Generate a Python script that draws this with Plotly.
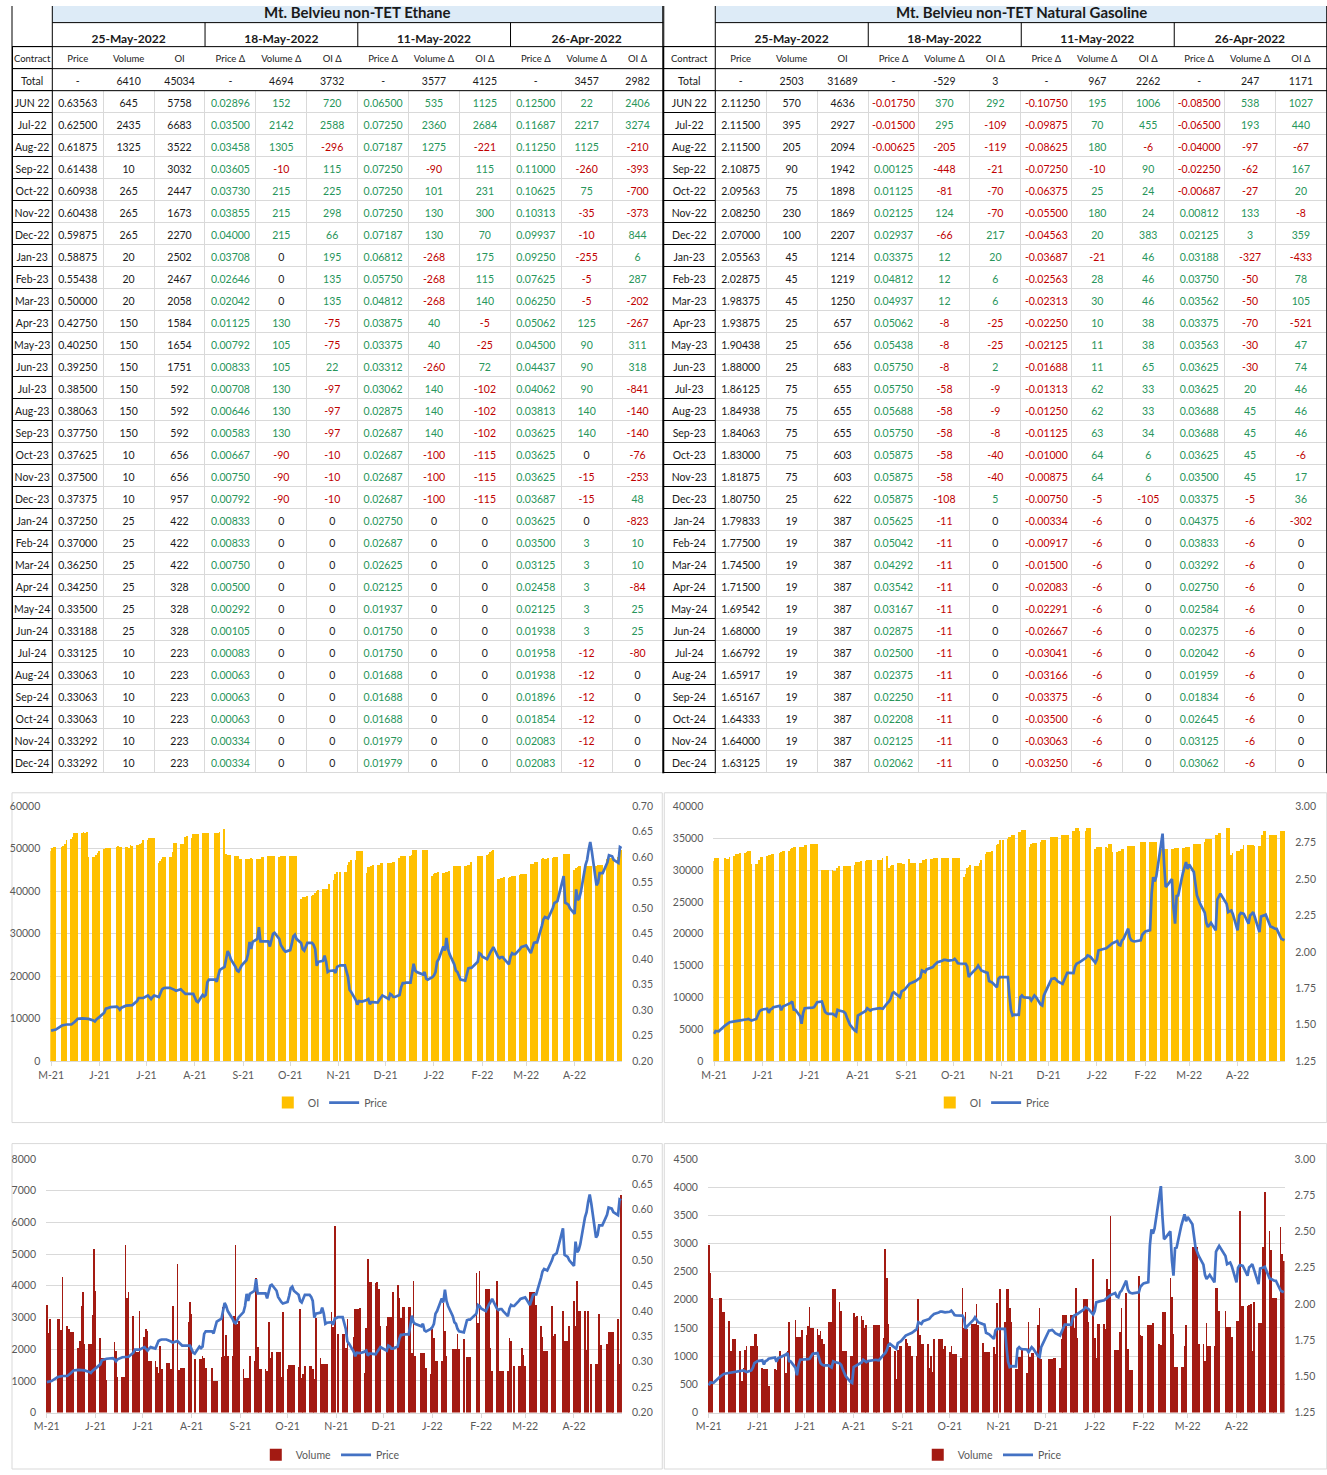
import pandas as pd
import plotly.graph_objects as go

W, H = 1327, 1475
FONT = "Lato"
INK = "#1a1a1a"
GREY_TXT = "#595959"
GRID = "#D9D9D9"
GREEN = "#27955A"
RED = "#C00000"
BLUE_FILL = "#DDEBF7"
GOLD = "#FFC000"
DARKRED = "#A31A12"
LINE_BLUE = "#4472C4"
NB = "\u00a0"

# the viewer shows the page slightly shrunk and shifted; layout is given in
# picture pixels and mapped back to page pixels
OX, OY, S = 11.7, 6.4, 0.991

# ---------------- table data ----------------
report_dates = ["25-May-2022", "18-May-2022", "11-May-2022", "26-Apr-2022"]
col_heads = ["Contract", "Price", "Volume", "OI", "Price Δ", "Volume Δ", "OI Δ",
             "Price Δ", "Volume Δ", "OI Δ", "Price Δ", "Volume Δ", "OI Δ"]
contracts = ["JUN 22", "Jul-22", "Aug-22", "Sep-22", "Oct-22", "Nov-22", "Dec-22",
             "Jan-23", "Feb-23", "Mar-23", "Apr-23", "May-23", "Jun-23", "Jul-23",
             "Aug-23", "Sep-23", "Oct-23", "Nov-23", "Dec-23", "Jan-24", "Feb-24",
             "Mar-24", "Apr-24", "May-24", "Jun-24", "Jul-24", "Aug-24", "Sep-24",
             "Oct-24", "Nov-24", "Dec-24"]

# Ethane
eth_total = ["-", "6410", "45034", "-", "4694", "3732", "-", "3577", "4125", "-", "3457", "2982"]
eth_price = [0.63563, 0.62500, 0.61875, 0.61438, 0.60938, 0.60438, 0.59875, 0.58875, 0.55438,
             0.50000, 0.42750, 0.40250, 0.39250, 0.38500, 0.38063, 0.37750, 0.37625, 0.37500,
             0.37375, 0.37250, 0.37000, 0.36250, 0.34250, 0.33500, 0.33188, 0.33125, 0.33063,
             0.33063, 0.33063, 0.33292, 0.33292]
eth_volume = [645, 2435, 1325, 10, 265, 265, 265, 20, 20, 20, 150, 150, 150, 150, 150, 150,
              10, 10, 10, 25, 25, 25, 25, 25, 25, 10, 10, 10, 10, 10, 10]
eth_oi = [5758, 6683, 3522, 3032, 2447, 1673, 2270, 2502, 2467, 2058, 1584, 1654, 1751, 592,
          592, 592, 656, 656, 957, 422, 422, 422, 328, 328, 328, 223, 223, 223, 223, 223, 223]
eth_dp_0518 = [0.02896, 0.03500, 0.03458, 0.03605, 0.03730, 0.03855, 0.04000, 0.03708, 0.02646,
               0.02042, 0.01125, 0.00792, 0.00833, 0.00708, 0.00646, 0.00583, 0.00667, 0.00750,
               0.00792, 0.00833, 0.00833, 0.00750, 0.00500, 0.00292, 0.00105, 0.00083, 0.00063,
               0.00063, 0.00063, 0.00334, 0.00334]
eth_dv_0518 = [152, 2142, 1305, -10, 215, 215, 215, 0, 0, 0, 130, 105, 105, 130, 130, 130,
               -90, -90, -90, 0, 0, 0, 0, 0, 0, 0, 0, 0, 0, 0, 0]
eth_doi_0518 = [720, 2588, -296, 115, 225, 298, 66, 195, 135, 135, -75, -75, 22, -97, -97, -97,
                -10, -10, -10, 0, 0, 0, 0, 0, 0, 0, 0, 0, 0, 0, 0]
eth_dp_0511 = [0.06500, 0.07250, 0.07187, 0.07250, 0.07250, 0.07250, 0.07187, 0.06812, 0.05750,
               0.04812, 0.03875, 0.03375, 0.03312, 0.03062, 0.02875, 0.02687, 0.02687, 0.02687,
               0.02687, 0.02750, 0.02687, 0.02625, 0.02125, 0.01937, 0.01750, 0.01750, 0.01688,
               0.01688, 0.01688, 0.01979, 0.01979]
eth_dv_0511 = [535, 2360, 1275, -90, 101, 130, 130, -268, -268, -268, 40, 40, -260, 140, 140, 140,
               -100, -100, -100, 0, 0, 0, 0, 0, 0, 0, 0, 0, 0, 0, 0]
eth_doi_0511 = [1125, 2684, -221, 115, 231, 300, 70, 175, 115, 140, -5, -25, 72, -102, -102, -102,
                -115, -115, -115, 0, 0, 0, 0, 0, 0, 0, 0, 0, 0, 0, 0]
eth_dp_0426 = [0.12500, 0.11687, 0.11250, 0.11000, 0.10625, 0.10313, 0.09937, 0.09250, 0.07625,
               0.06250, 0.05062, 0.04500, 0.04437, 0.04062, 0.03813, 0.03625, 0.03625, 0.03625,
               0.03687, 0.03625, 0.03500, 0.03125, 0.02458, 0.02125, 0.01938, 0.01958, 0.01938,
               0.01896, 0.01854, 0.02083, 0.02083]
eth_dv_0426 = [22, 2217, 1125, -260, 75, -35, -10, -255, -5, -5, 125, 90, 90, 90, 140, 140,
               0, -15, -15, 0, 3, 3, 3, 3, 3, -12, -12, -12, -12, -12, -12]
eth_doi_0426 = [2406, 3274, -210, -393, -700, -373, 844, 6, 287, -202, -267, 311, 318, -841, -140,
                -140, -76, -253, 48, -823, 10, 10, -84, 25, 25, -80, 0, 0, 0, 0, 0]

# Natural Gasoline
ng_total = ["-", "2503", "31689", "-", "-529", "3", "-", "967", "2262", "-", "247", "1171"]
ng_price = [2.11250, 2.11500, 2.11500, 2.10875, 2.09563, 2.08250, 2.07000, 2.05563, 2.02875,
            1.98375, 1.93875, 1.90438, 1.88000, 1.86125, 1.84938, 1.84063, 1.83000, 1.81875,
            1.80750, 1.79833, 1.77500, 1.74500, 1.71500, 1.69542, 1.68000, 1.66792, 1.65917,
            1.65167, 1.64333, 1.64000, 1.63125]
ng_volume = [570, 395, 205, 90, 75, 230, 100, 45, 45, 45, 25, 25, 25, 75, 75, 75, 75, 75, 25,
             19, 19, 19, 19, 19, 19, 19, 19, 19, 19, 19, 19]
ng_oi = [4636, 2927, 2094, 1942, 1898, 1869, 2207, 1214, 1219, 1250, 657, 656, 683, 655, 655,
         655, 603, 603, 622, 387, 387, 387, 387, 387, 387, 387, 387, 387, 387, 387, 387]
ng_dp_0518 = [-0.01750, -0.01500, -0.00625, 0.00125, 0.01125, 0.02125, 0.02937, 0.03375, 0.04812,
              0.04937, 0.05062, 0.05438, 0.05750, 0.05750, 0.05688, 0.05750, 0.05875, 0.05875,
              0.05875, 0.05625, 0.05042, 0.04292, 0.03542, 0.03167, 0.02875, 0.02500, 0.02375,
              0.02250, 0.02208, 0.02125, 0.02062]
ng_dv_0518 = [370, 295, -205, -448, -81, 124, -66, 12, 12, 12, -8, -8, -8, -58, -58, -58, -58,
              -58, -108, -11, -11, -11, -11, -11, -11, -11, -11, -11, -11, -11, -11]
ng_doi_0518 = [292, -109, -119, -21, -70, -70, 217, 20, 6, 6, -25, -25, 2, -9, -9, -8, -40, -40,
               5, 0, 0, 0, 0, 0, 0, 0, 0, 0, 0, 0, 0]
ng_dp_0511 = [-0.10750, -0.09875, -0.08625, -0.07250, -0.06375, -0.05500, -0.04563, -0.03687,
              -0.02563, -0.02313, -0.02250, -0.02125, -0.01688, -0.01313, -0.01250, -0.01125,
              -0.01000, -0.00875, -0.00750, -0.00334, -0.00917, -0.01500, -0.02083, -0.02291,
              -0.02667, -0.03041, -0.03166, -0.03375, -0.03500, -0.03063, -0.03250]
ng_dv_0511 = [195, 70, 180, -10, 25, 180, 20, -21, 28, 30, 10, 11, 11, 62, 62, 63, 64, 64, -5,
              -6, -6, -6, -6, -6, -6, -6, -6, -6, -6, -6, -6]
ng_doi_0511 = [1006, 455, -6, 90, 24, 24, 383, 46, 46, 46, 38, 38, 65, 33, 33, 34, 6, 6, -105,
               0, 0, 0, 0, 0, 0, 0, 0, 0, 0, 0, 0]
ng_dp_0426 = [-0.08500, -0.06500, -0.04000, -0.02250, -0.00687, 0.00812, 0.02125, 0.03188,
              0.03750, 0.03562, 0.03375, 0.03563, 0.03625, 0.03625, 0.03688, 0.03688, 0.03625,
              0.03500, 0.03375, 0.04375, 0.03833, 0.03292, 0.02750, 0.02584, 0.02375, 0.02042,
              0.01959, 0.01834, 0.02645, 0.03125, 0.03062]
ng_dv_0426 = [538, 193, -97, -62, -27, 133, 3, -327, -50, -50, -70, -30, -30, 20, 45, 45, 45, 45,
              -5, -6, -6, -6, -6, -6, -6, -6, -6, -6, -6, -6, -6]
ng_doi_0426 = [1027, 440, -67, 167, 20, -8, 359, -433, 78, 105, -521, 47, 74, 46, 46, 46, -6, 17,
               36, -302, 0, 0, 0, 0, 0, 0, 0, 0, 0, 0, 0]

# ---------------- daily history ----------------
holidays = ["2021-05-31", "2021-07-05", "2021-09-06", "2021-11-25", "2021-12-24",
            "2022-01-17", "2022-02-21", "2022-04-15"]
days = pd.bdate_range("2021-05-25", "2022-05-25", freq="C", holidays=holidays)

tick_dates = ["2021-05-25", "2021-06-25", "2021-07-25", "2021-08-25", "2021-09-25", "2021-10-25",
              "2021-11-25", "2021-12-25", "2022-01-25", "2022-02-25", "2022-03-25", "2022-04-25"]
tick_text = ["M-21", "J-21", "J-21", "A-21", "S-21", "O-21", "N-21", "D-21", "J-22", "F-22",
             "M-22", "A-22"]

eth_oi_hist = [
    49500, 50000, 50300, 50300, 50300, 50500, 51000, 52000, 52300, 52700, 53600, 53600, 53600, 53600, 53800, 53600, 53900, 48000, 48000, 48000, 48500, 49000,
    49500, 49800, 50000, 50000, 50000, 50000, 50300, 50600, 50400, 50400, 50300, 50400, 50000, 50800, 50600, 50800, 50800, 51000, 51400, 52000,
    52000, 52400, 52500, 52500, 52500, 46700, 47000, 47500, 48000, 48000, 48000, 48000, 49200, 51300, 51300, 51000, 51000, 51000, 52700, 53000, 52500, 53300,
    53300, 53400, 53400, 53600, 53600, 53600, 53600, 53600, 53600, 53600, 53700, 53900, 54600, 48600, 48400, 48400, 48400, 48300, 48200, 48200, 47600, 47600,
    47600, 47500, 47600, 47700, 47500, 47500, 47500, 47500, 48000, 48000, 48200, 48200, 48200, 48200, 48200, 48000, 48200, 48200, 48200, 48200,
    48200, 48200, 48200, 48200, 48200, 38000, 38500, 38600, 38700, 38800, 38900, 39000, 39600, 40000, 40300, 40500, 40500, 40500, 40500, 41600, 42600, 44000, 44500,
    44400, 44400, 44400, 46100, 46900, 47300, 47300, 49400, 49400, 49400, 49400, 44300, 45700, 45700, 45800, 46000, 46000, 46000, 46500, 46500,
    46500, 46700, 46700, 46900, 46900, 47800, 48200, 48200, 48200, 48200, 48200, 48400, 49600, 49600, 49600, 49600, 49600, 49600, 49600, 43500,
    44100, 44300, 44300, 44400, 44300, 44300, 44400, 44400, 44600, 45900, 45900, 45900, 45900, 45900, 45900, 45900, 46000, 46000, 46900, 48200, 48200, 48200,
    48200, 48400, 48600, 49200, 49400, 49600, 42800, 42800, 43000, 43000, 43200, 43000, 43200, 43500, 43500, 43600, 43800, 44100, 44100, 44100,
    44100, 46400, 46400, 46400, 46900, 46900, 47500, 47700, 47500, 47500, 47700, 47700, 48100, 48100, 48100, 48600, 48600, 48600, 48600, 48600,
    44900, 45300, 45700, 45900, 45900, 45900, 45900, 45900, 45900, 45900, 45900, 46000, 46000, 46000, 46000, 47500, 47700, 47700, 47700, 47700, 48100, 48100, 49600,
]
eth_price_hist = [
    0.260, 0.261, 0.262, 0.262, 0.270, 0.271, 0.272, 0.272, 0.272, 0.274, 0.277, 0.280, 0.283, 0.284, 0.284, 0.284, 0.284, 0.283, 0.280, 0.278, 0.282, 0.284,
    0.287, 0.295, 0.303, 0.304, 0.305, 0.306, 0.307, 0.305, 0.301, 0.305, 0.309, 0.309, 0.309, 0.309, 0.310, 0.318, 0.324, 0.324, 0.324, 0.324,
    0.329, 0.325, 0.322, 0.326, 0.329, 0.326, 0.334, 0.341, 0.343, 0.344, 0.344, 0.343, 0.342, 0.340, 0.338, 0.341, 0.338, 0.335, 0.332, 0.332, 0.332, 0.332,
    0.325, 0.318, 0.316, 0.330, 0.327, 0.330, 0.355, 0.360, 0.360, 0.356, 0.368, 0.379, 0.385, 0.400, 0.416, 0.410, 0.400, 0.385, 0.378, 0.376, 0.383, 0.388,
    0.398, 0.410, 0.434, 0.420, 0.434, 0.440, 0.463, 0.435, 0.435, 0.435, 0.435, 0.425, 0.440, 0.450, 0.452, 0.440, 0.428, 0.422, 0.418, 0.415,
    0.418, 0.430, 0.445, 0.448, 0.440, 0.432, 0.420, 0.417, 0.425, 0.432, 0.432, 0.428, 0.420, 0.387, 0.395, 0.397, 0.407, 0.395, 0.375, 0.377, 0.378, 0.373, 0.385,
    0.388, 0.388, 0.378, 0.365, 0.340, 0.336, 0.320, 0.311, 0.318, 0.318, 0.317, 0.320, 0.322, 0.312, 0.316, 0.316, 0.315, 0.320, 0.325, 0.329,
    0.322, 0.332, 0.330, 0.326, 0.326, 0.330, 0.345, 0.353, 0.353, 0.354, 0.354, 0.370, 0.391, 0.378, 0.375, 0.370, 0.375, 0.362, 0.360, 0.365,
    0.368, 0.375, 0.395, 0.400, 0.425, 0.417, 0.442, 0.420, 0.410, 0.390, 0.378, 0.375, 0.365, 0.360, 0.358, 0.370, 0.382, 0.383, 0.383, 0.395, 0.412, 0.410,
    0.405, 0.400, 0.408, 0.413, 0.418, 0.424, 0.405, 0.402, 0.404, 0.404, 0.400, 0.390, 0.405, 0.412, 0.410, 0.410, 0.420, 0.424, 0.425, 0.426,
    0.427, 0.412, 0.425, 0.432, 0.433, 0.433, 0.465, 0.478, 0.483, 0.481, 0.480, 0.500, 0.510, 0.512, 0.514, 0.563, 0.511, 0.509, 0.507, 0.500,
    0.489, 0.537, 0.516, 0.520, 0.532, 0.585, 0.595, 0.615, 0.630, 0.612, 0.545, 0.550, 0.569, 0.569, 0.569, 0.590, 0.604, 0.603, 0.602, 0.595, 0.589, 0.620, 0.618,
]
eth_vol_hist = [
    3380, 2500, 2950, 0, 2950, 2950, 2620, 4270, 2720, 2630, 2530, 2530, 2530, 2030, 2250, 3350, 3820, 2150, 2150, 2150, 3070, 5150,
    3850, 2350, 1720, 1720, 1720, 1020, 0, 2220, 1930, 1120, 1120, 1120, 5300, 3630, 3800, 3040, 1950, 1900, 1900, 3200,
    2400, 2630, 2570, 1630, 1630, 1630, 1450, 1250, 2100, 1380, 1550, 1550, 1550, 1380, 3350, 4680, 1350, 1400, 1400, 1400, 2850, 3500,
    3100, 0, 1680, 1680, 1680, 1780, 1720, 1420, 1420, 1000, 1000, 1000, 1750, 3330, 1780, 2440, 1780, 1780, 3050, 5280, 2800, 2900,
    1380, 1100, 1100, 1100, 1800, 1620, 4260, 2070, 1380, 1380, 1380, 1320, 2850, 1720, 1900, 1900, 1900, 1900, 1120, 3160,
    1380, 1500, 1500, 1500, 1500, 1450, 3260, 1100, 1220, 1470, 1470, 1470, 1380, 1060, 3000, 1720, 1530, 1530, 1530, 1530, 3160, 2700, 5880,
    2470, 2470, 2470, 2050, 2950, 0, 2370, 3260, 3260, 3260, 3300, 1260, 2680, 4840, 4130, 4130, 4100, 4130, 3890, 2740,
    2740, 3020, 3020, 3020, 3820, 4020, 3630, 2970, 3320, 3320, 3320, 3320, 1890, 4160, 1790, 1890, 1890, 1890, 1420, 1210,
    2630, 2340, 1630, 1630, 1630, 3470, 2580, 1790, 0, 2020, 2020, 2020, 2470, 2020, 2320, 0, 1740, 1740, 1740, 4420, 2840, 4470,
    0, 3890, 3890, 3890, 2050, 1320, 4160, 3260, 1320, 1320, 1320, 1320, 2340, 2260, 0, 1470, 1470, 1470, 2050, 1810,
    1470, 3790, 3790, 3790, 3790, 3390, 2720, 2370, 1950, 1950, 1950, 3370, 2420, 2490, 0, 3190, 2260, 2260, 2260, 2740,
    3530, 2740, 4160, 3190, 3190, 3190, 1980, 3190, 0, 1530, 1530, 1530, 3110, 2140, 0, 2160, 2530, 2530, 2530, 2530, 2950, 1530, 6860,
]
ng_oi_hist = [
    31400, 31800, 31800, 31800, 31800, 31700, 31700, 32000, 32200, 32500, 32500, 32500, 32600, 32600, 32800, 33000, 33000, 30900, 30900, 30900, 31500, 32000,
    32000, 32100, 32300, 32300, 32400, 32400, 32700, 32800, 32900, 33000, 33000, 33200, 33400, 33600, 33600, 33600, 33600, 33600, 33900, 33900,
    34000, 34000, 34100, 34100, 34100, 29900, 29900, 29900, 29900, 29900, 29900, 29800, 29800, 30200, 30600, 30600, 30600, 30600, 30600, 30600, 30800, 31200,
    31200, 31200, 31300, 31300, 31500, 31500, 31500, 31500, 31500, 31500, 31500, 31900, 32100, 30300, 30600, 30800, 30800, 31000, 31000, 31100, 30900, 30900,
    31700, 31000, 31000, 31100, 31100, 31100, 31100, 31500, 31500, 31700, 31700, 31700, 31800, 31800, 31800, 31800, 31800, 31800, 31800, 31800,
    31800, 31800, 31800, 31800, 31800, 28900, 29400, 30200, 30400, 30700, 30600, 30600, 30600, 31000, 31500, 32400, 32800, 32800, 32800, 33000, 33900, 34100, 34600,
    34600, 34800, 35100, 35100, 35400, 35400, 35900, 35900, 36200, 36200, 36200, 33600, 34100, 34200, 34200, 34200, 34400, 34600, 34600, 34600,
    35100, 35100, 35100, 35100, 35100, 35500, 35500, 35500, 35500, 35500, 36000, 36000, 36500, 36500, 36100, 36100, 36600, 36600, 36600, 33200,
    33500, 33500, 33500, 33500, 33500, 33400, 34100, 34100, 32800, 32800, 32900, 32900, 33200, 33200, 33700, 33700, 33700, 33700, 33700, 34300, 34300, 34400,
    34400, 34400, 34400, 34400, 34400, 34400, 33200, 33300, 33300, 33300, 33300, 33300, 33300, 33400, 33400, 33400, 33400, 33400, 33600, 33600,
    33600, 34100, 34100, 34100, 34100, 34100, 34400, 34800, 34800, 34900, 34900, 35400, 35400, 35700, 35700, 36500, 36500, 36500, 32300, 32700,
    32900, 32900, 33300, 33300, 33900, 33900, 33900, 33900, 33900, 33700, 33700, 33700, 35400, 36000, 36000, 35400, 35400, 35400, 35400, 35400, 36000, 36000, 36100,
]
ng_price_hist = [
    1.438, 1.458, 1.456, 1.455, 1.495, 1.505, 1.512, 1.518, 1.523, 1.523, 1.527, 1.529, 1.530, 1.536, 1.538, 1.541, 1.535, 1.529, 1.540, 1.560, 1.591, 1.600,
    1.605, 1.610, 1.582, 1.605, 1.610, 1.621, 1.630, 1.600, 1.625, 1.630, 1.644, 1.650, 1.660, 1.605, 1.603, 1.560, 1.507, 1.580, 1.614, 1.614,
    1.614, 1.618, 1.621, 1.640, 1.655, 1.660, 1.620, 1.590, 1.580, 1.575, 1.575, 1.565, 1.560, 1.603, 1.598, 1.590, 1.580, 1.550, 1.530, 1.500, 1.461, 1.454,
    1.564, 1.570, 1.575, 1.595, 1.614, 1.606, 1.598, 1.605, 1.615, 1.614, 1.612, 1.610, 1.650, 1.660, 1.680, 1.715, 1.724, 1.700, 1.690, 1.729, 1.735, 1.742,
    1.781, 1.785, 1.790, 1.793, 1.800, 1.825, 1.873, 1.868, 1.862, 1.880, 1.893, 1.896, 1.910, 1.923, 1.930, 1.940, 1.946, 1.946, 1.942, 1.941,
    1.945, 1.953, 1.940, 1.923, 1.921, 1.919, 1.919, 1.900, 1.827, 1.845, 1.875, 1.889, 1.907, 1.890, 1.873, 1.860, 1.857, 1.800, 1.797, 1.790, 1.758, 1.816, 1.827,
    1.827, 1.827, 1.700, 1.600, 1.564, 1.570, 1.568, 1.690, 1.701, 1.690, 1.688, 1.685, 1.667, 1.690, 1.701, 1.690, 1.640, 1.633, 1.700, 1.724,
    1.816, 1.817, 1.820, 1.810, 1.797, 1.781, 1.810, 1.839, 1.857, 1.857, 1.855, 1.900, 1.919, 1.925, 1.930, 1.960, 1.976, 1.972, 1.965, 1.926,
    1.950, 2.010, 2.015, 2.017, 2.025, 2.033, 2.040, 2.052, 2.060, 2.075, 2.050, 2.045, 2.079, 2.090, 2.160, 2.100, 2.080, 2.075, 2.072, 2.080, 2.118, 2.130,
    2.141, 2.150, 2.400, 2.514, 2.484, 2.520, 2.740, 2.812, 2.600, 2.446, 2.457, 2.500, 2.300, 2.194, 2.384, 2.388, 2.542, 2.590, 2.617, 2.570,
    2.600, 2.549, 2.450, 2.388, 2.360, 2.331, 2.270, 2.200, 2.171, 2.185, 2.200, 2.148, 2.360, 2.380, 2.400, 2.330, 2.274, 2.280, 2.285, 2.260,
    2.148, 2.250, 2.267, 2.265, 2.262, 2.194, 2.251, 2.260, 2.274, 2.240, 2.136, 2.244, 2.250, 2.251, 2.256, 2.175, 2.171, 2.165, 2.160, 2.159, 2.091, 2.085, 2.080,
]
ng_vol_hist = [
    2980, 2470, 2040, 0, 2040, 2040, 1780, 1790, 1620, 1100, 1300, 1300, 1300, 1090, 570, 800, 1120, 1190, 1190, 1190, 1400, 1390,
    1190, 800, 770, 770, 770, 470, 780, 760, 970, 1100, 1000, 700, 1090, 1600, 0, 1640, 1340, 1340, 1340, 1460,
    1370, 1530, 1880, 1500, 1500, 1490, 1380, 1440, 1300, 1210, 1600, 1600, 1600, 2200, 2200, 1960, 1810, 1100, 1100, 1100, 1000, 1000,
    1770, 1690, 1720, 1720, 1650, 1500, 1550, 890, 1550, 1550, 1550, 1550, 1320, 2910, 2380, 1570, 1160, 1100, 600, 1120, 1180, 1180,
    1300, 1240, 1180, 1180, 1000, 1000, 2010, 1380, 1210, 1210, 1210, 790, 1000, 720, 1300, 1300, 1300, 1300, 1130, 1180,
    1070, 1180, 1040, 1040, 1040, 970, 2220, 1510, 1780, 1480, 1580, 1570, 1570, 1920, 1560, 1240, 1080, 1080, 1080, 1080, 1160, 1040, 1940,
    2190, 1600, 2190, 2190, 1865, 1600, 780, 780, 990, 990, 1125, 710, 1610, 990, 1065, 1065, 1550, 1850, 950, 0,
    950, 950, 950, 977, 977, 790, 1300, 1735, 1735, 1735, 1735, 1735, 1510, 2220, 1330, 2010, 2010, 2010, 1600, 2720,
    1330, 977, 1570, 1570, 1570, 1480, 2370, 2190, 3490, 1110, 1110, 1110, 1430, 1865, 2130, 1125, 760, 760, 760, 2430, 1375, 1360,
    0, 1560, 1560, 1560, 1590, 0, 1225, 1195, 1790, 1790, 1790, 2380, 2060, 1400, 817, 817, 817, 817, 1185, 1560,
    0, 2940, 2940, 2940, 2940, 1215, 1215, 918, 1590, 1185, 1185, 1185, 2210, 2210, 1795, 1795, 1520, 1520, 1520, 1345,
    1620, 1620, 3580, 1895, 1895, 1895, 1905, 1920, 1095, 1955, 1590, 1590, 1590, 2930, 3920, 3230, 2880, 2025, 2025, 2025, 3300, 2820, 2690,
]

for s in (eth_oi_hist, eth_price_hist, eth_vol_hist, ng_oi_hist, ng_price_hist, ng_vol_hist):
    assert len(s) == len(days), (len(s), len(days))


def sx(x):
    return min(max((x - OX) / S, 0.0), W)


def sy(y):
    return min(max((y - OY) / S, 0.0), H)


def px(x):
    return sx(x) / W


def py(y):
    return 1 - sy(y) / H


fig = go.Figure()
shapes = []
notes = []


def hline(y, xa, xb, color="black"):
    shapes.append(dict(type="line", xref="paper", yref="paper", x0=px(xa), x1=px(xb),
                       y0=py(y), y1=py(y), line=dict(color=color, width=1)))


def vline(x, ya, yb, color="black"):
    shapes.append(dict(type="line", xref="paper", yref="paper", x0=px(x), x1=px(x),
                       y0=py(ya), y1=py(yb), line=dict(color=color, width=1)))


def tone(v):
    return GREEN if v > 0 else (RED if v < 0 else INK)


ROW = 22  # table row height


def add_table(xl, xr, title, totals, cols):
    step = (xr - xl - 52) / 12
    edges = [xl, xl + 52] + [xl + 52 + step * k for k in range(1, 13)]
    pe = [sx(e) for e in edges]
    widths = [pe[k + 1] - pe[k] for k in range(13)]
    dom = [pe[0] / W, pe[-1] / W]

    # title row (blue band, the title itself is an annotation)
    fig.add_trace(go.Table(
        domain=dict(x=dom, y=[py(60), py(0)]), columnwidth=[widths[0], sum(widths[1:])],
        header=dict(values=["", ""], height=sy(23) - sy(0),
                    fill=dict(color=["white", BLUE_FILL]),
                    line=dict(color=["white", BLUE_FILL], width=1)),
        cells=dict(values=[[""], [""]], height=ROW, fill=dict(color="white"),
                   line=dict(color="white"))))
    notes.append(dict(text=f"<b>{title}</b>", x=px((edges[1] + xr) / 2), y=py(12.5),
                      xref="paper", yref="paper", showarrow=False, xanchor="center",
                      yanchor="middle", font=dict(family=FONT, size=15, color=INK)))
    # report-date row
    gw = [widths[0]] + [sum(widths[1 + 3 * g:4 + 3 * g]) for g in range(4)]
    fig.add_trace(go.Table(
        domain=dict(x=dom, y=[py(90), py(23)]), columnwidth=gw,
        header=dict(values=[""] + [f"<b>{d}</b>" for d in report_dates], height=24,
                    align="center", fill=dict(color="white"), line=dict(color="white"),
                    font=dict(family=FONT, size=12, color=INK)),
        cells=dict(values=[[""]] * 5, height=ROW, fill=dict(color="white"),
                   line=dict(color="white"))))

    # body
    values = [["Total"] + [c.replace(" ", NB) for c in contracts]]
    colors = [[INK] * (len(contracts) + 1)]
    lines = [["black"] * (len(contracts) + 1)]
    for i, col in enumerate(cols):
        if i % 3 == 0:
            txt = [f"{v:.5f}" for v in col]
        else:
            txt = [str(v) for v in col]
        values.append([totals[i]] + txt)
        if i < 3:
            colors.append([INK] * (len(col) + 1))
        else:
            colors.append([INK] + [tone(v) for v in col])
        lines.append(["white"] + [GRID] * len(col))
    fig.add_trace(go.Table(
        domain=dict(x=dom, y=[py(788), py(47)]), columnwidth=widths,
        header=dict(values=[h.replace(" ", NB) for h in col_heads], height=ROW, align="center",
                    fill=dict(color="white"),
                    line=dict(color=["black"] + ["white"] * 12, width=1),
                    font=dict(family=FONT, size=9.5, color=INK)),
        cells=dict(values=values, height=ROW, align="center", fill=dict(color="white"),
                   line=dict(color=lines, width=1),
                   font=dict(family=FONT, size=10.5, color=colors))))

    bottom = 47 + ROW * (len(contracts) + 2)
    hline(23, edges[1], xr)
    for y in (47, 69, 91):
        hline(y, xl, xr)
    vline(edges[1], 0, bottom)
    vline(xl + 0.5, 0, bottom)
    vline(xr - 0.5, 0, bottom)
    for k in (4, 7, 10):
        vline(edges[k], 23, 47)


add_table(0, 663, "Mt. Belvieu non-TET Ethane", eth_total,
          [eth_price, eth_volume, eth_oi, eth_dp_0518, eth_dv_0518, eth_doi_0518,
           eth_dp_0511, eth_dv_0511, eth_doi_0511, eth_dp_0426, eth_dv_0426, eth_doi_0426])
add_table(663, 1327, "Mt. Belvieu non-TET Natural Gasoline", ng_total,
          [ng_price, ng_volume, ng_oi, ng_dp_0518, ng_dv_0518, ng_doi_0518,
           ng_dp_0511, ng_dv_0511, ng_doi_0511, ng_dp_0426, ng_dv_0426, ng_doi_0426])

# ---------------- charts ----------------
charts = [
    dict(x=(50, 622), y=(806, 1060.7), bars=eth_oi_hist, name="OI", color=GOLD,
         price=eth_price_hist, left=(60000, 10000), right=(0.20, 0.70, 0.05), leg=(330, 1102),
         frame=(0.5, 792.5, 662, 1122)),
    dict(x=(713, 1285), y=(806, 1060.7), bars=ng_oi_hist, name="OI", color=GOLD,
         price=ng_price_hist, left=(40000, 5000), right=(1.25, 3.00, 0.25), leg=(992, 1102),
         frame=(664, 792.5, 1326.5, 1122)),
    dict(x=(45.7, 621.7), y=(1158.3, 1411.7), bars=eth_vol_hist, name="Volume", color=DARKRED,
         price=eth_price_hist, left=(8000, 1000), right=(0.20, 0.70, 0.05), leg=(330, 1454),
         frame=(0.5, 1143, 662, 1473)),
    dict(x=(707.7, 1284.3), y=(1158.3, 1411.7), bars=ng_vol_hist, name="Volume", color=DARKRED,
         price=ng_price_hist, left=(4500, 500), right=(1.25, 3.00, 0.25), leg=(992, 1454),
         frame=(664, 1143, 1326.5, 1473)),
]

tickfont = dict(family=FONT, size=10.5, color=GREY_TXT)
layout_axes = {}
for i, c in enumerate(charts, start=1):
    xa = "x" if i == 1 else f"x{i}"
    yl = 2 * i - 1
    yr = 2 * i
    yl_id = "y" if yl == 1 else f"y{yl}"
    yr_id = f"y{yr}"
    leg = "legend" if i == 1 else f"legend{i}"

    fig.add_trace(go.Bar(x=days, y=c["bars"], name=c["name"],
                         marker=dict(color=c["color"], line=dict(width=0)),
                         width=0.46 * 86400000, xaxis=xa, yaxis=yl_id, legend=leg))
    fig.add_trace(go.Scatter(x=days, y=c["price"], name="Price", mode="lines",
                             line=dict(color=LINE_BLUE, width=2.7), xaxis=xa, yaxis=yr_id,
                             legend=leg))

    xkey = "xaxis" if i == 1 else f"xaxis{i}"
    layout_axes[xkey] = dict(
        domain=[px(c["x"][0]), px(c["x"][1])], anchor=yl_id, type="date",
        range=["2021-05-24 12:00", "2022-05-25 12:00"], tickmode="array",
        tickvals=tick_dates, ticktext=tick_text, showgrid=False, showline=True,
        linecolor=GRID, ticks="outside", ticklen=4, tickcolor=GRID, tickfont=tickfont,
        zeroline=False)
    ykey = "yaxis" if yl == 1 else f"yaxis{yl}"
    layout_axes[ykey] = dict(
        domain=[py(c["y"][1]), py(c["y"][0])], anchor=xa, range=[0, c["left"][0]],
        dtick=c["left"][1], tick0=0, tickformat="d", showgrid=True, gridcolor=GRID,
        zeroline=False, showline=False, tickfont=tickfont, ticklabelstandoff=9)
    layout_axes[f"yaxis{yr}"] = dict(
        overlaying=yl_id, side="right", anchor=xa, range=[c["right"][0], c["right"][1]],
        dtick=c["right"][2], tick0=c["right"][0], tickformat=".2f", showgrid=False,
        zeroline=False, showline=False, tickfont=tickfont, ticklabelstandoff=9)
    layout_axes[leg] = dict(
        x=px(c["leg"][0]), y=py(c["leg"][1]), xanchor="center", yanchor="middle",
        orientation="h", font=dict(family=FONT, size=10.5, color=GREY_TXT),
        bgcolor="rgba(0,0,0,0)", itemwidth=30, tracegroupgap=0)
    fx0, fy0, fx1, fy1 = c["frame"]
    shapes.append(dict(type="rect", xref="paper", yref="paper", x0=px(fx0), x1=px(fx1),
                       y0=py(fy1), y1=py(fy0), line=dict(color=GRID, width=1),
                       fillcolor="rgba(0,0,0,0)", layer="below"))

fig.update_layout(
    width=W, height=H, margin=dict(l=0, r=0, t=0, b=0),
    paper_bgcolor="white", plot_bgcolor="white",
    font=dict(family=FONT, color=GREY_TXT), showlegend=True, bargap=0,
    shapes=shapes, annotations=notes, **layout_axes)

page_css = ("document.documentElement.style.margin='0';"
            "document.documentElement.style.overflow='hidden';"
            "document.body.style.margin='0';document.body.style.padding='0';"
            "document.body.style.overflow='hidden';")
fig.write_html("out.html", config={"displayModeBar": False}, post_script=page_css)
